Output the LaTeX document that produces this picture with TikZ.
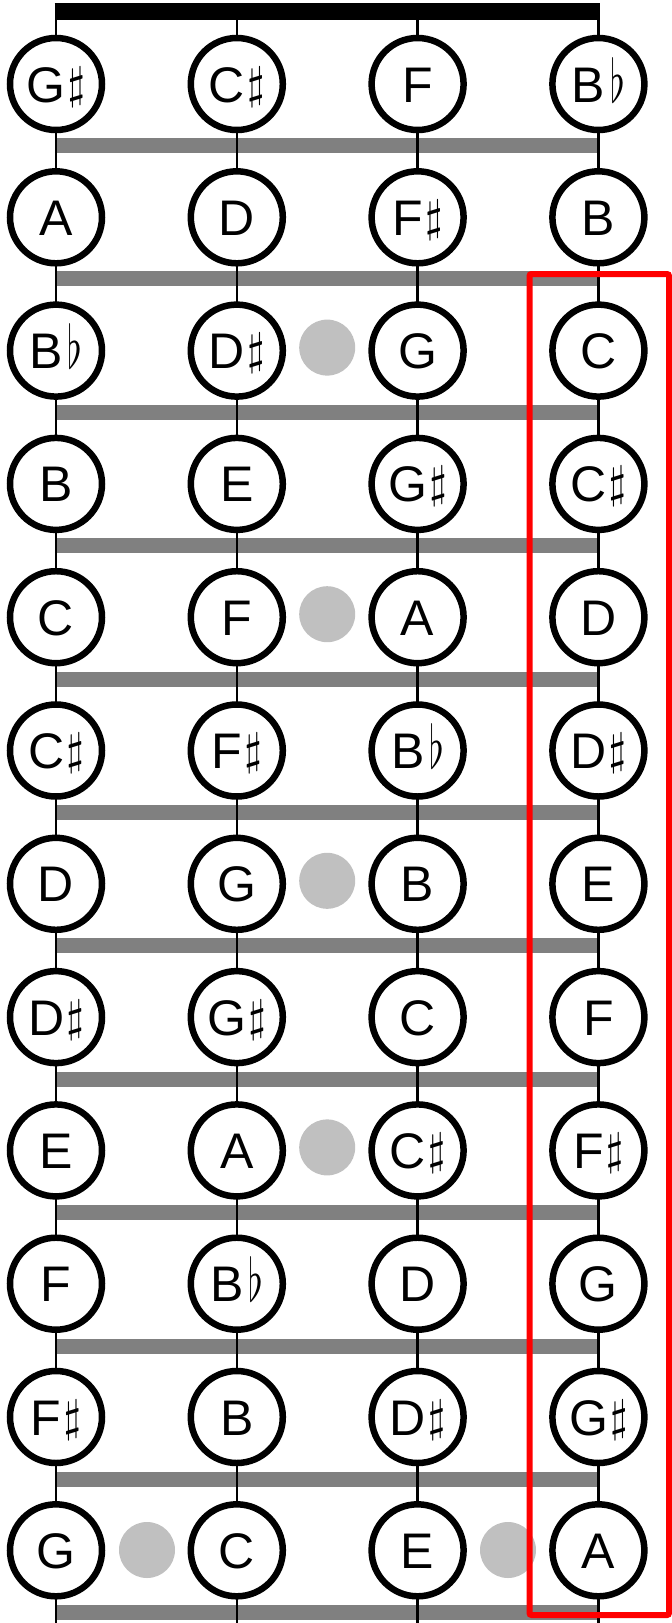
\documentclass[tikz,border=0pt]{standalone}
\usepackage{fontspec}
\setmainfont{Liberation Sans}
\usepackage{graphicx}
\usepackage{xcolor}
\usetikzlibrary{arrows.meta}

\definecolor{fretgray}{RGB}{128,128,128}
\definecolor{dotgray}{RGB}{192,192,192}
\newcommand{\shp}{\hspace{2pt}\smash{\raisebox{4pt}{\scalebox{4.5}{\fontsize{10}{12}\selectfont$\sharp$}}}}
\newcommand{\flt}{\hspace{5pt}\smash{\scalebox{3.8}[6]{\fontsize{10}{12}\selectfont$\flat$}}}

\begin{document}
\begin{tikzpicture}[x=1pt,y=-1pt,line width=0.4pt,
  note/.style={circle,draw,line width=6.5pt,fill=white,minimum size=92pt,inner sep=0pt,
    text height=36pt,text depth=0pt,font=\fontsize{50}{50}\selectfont},
  fretbar/.style={draw=fretgray,line width=15pt},
  marker/.style={circle,fill=dotgray,minimum size=56pt,inner sep=0pt}]
  \useasboundingbox (0,0) rectangle (672,1623);
  % Frets (grey bars below each row)
  \foreach \k in {1,...,12} {
    \draw[fretbar] (56,{145.5+133.4*(\k-1)}) -- (598.4,{145.5+133.4*(\k-1)});}
  % Strings, from the nut to the bottom edge
  \foreach \s in {1,...,4} {
    \coordinate (top\s) at ({56+180.8*(\s-1)},11.5);
    \coordinate (bot\s) at ({56+180.8*(\s-1)},1623);
    \draw[line width=2.5pt] (top\s) -- (bot\s);}
  % Nut
  \draw[line width=17pt] ([xshift=-1.5pt]top1) -- ([xshift=1.5pt]top4);
  % Position markers
  \foreach \r in {3,5,7,9} {\node[marker] (dot\r) at (327.2,{81+133.3*(\r-1)}) {};}
  \node[marker] (dot12a) at (147,1550) {};
  \node[marker] (dot12b) at (508,1550) {};
  % Notes, one row per fret
  \foreach \row [count=\r] in {{G\shp,C\shp,F,B\flt},{A,D,F\shp,B},{B\flt,D\shp,G,C},
      {B,E,G\shp,C\shp},{C,F,A,D},{C\shp,F\shp,B\flt,D\shp},{D,G,B,E},{D\shp,G\shp,C,F},
      {E,A,C\shp,F\shp},{F,B\flt,D,G},{F\shp,B,D\shp,G\shp},{G,C,E,A}} {
    \foreach \lab [count=\s] in \row {
      \node[note] (n\r-\s) at ({56+180.8*(\s-1)},{84+133.3*(\r-1)}) {\lab};}}
  % Highlighted string
  \draw[red,line width=6pt,rounded corners=2pt] (529.5,274) rectangle (669,1615);
\end{tikzpicture}
\end{document}
